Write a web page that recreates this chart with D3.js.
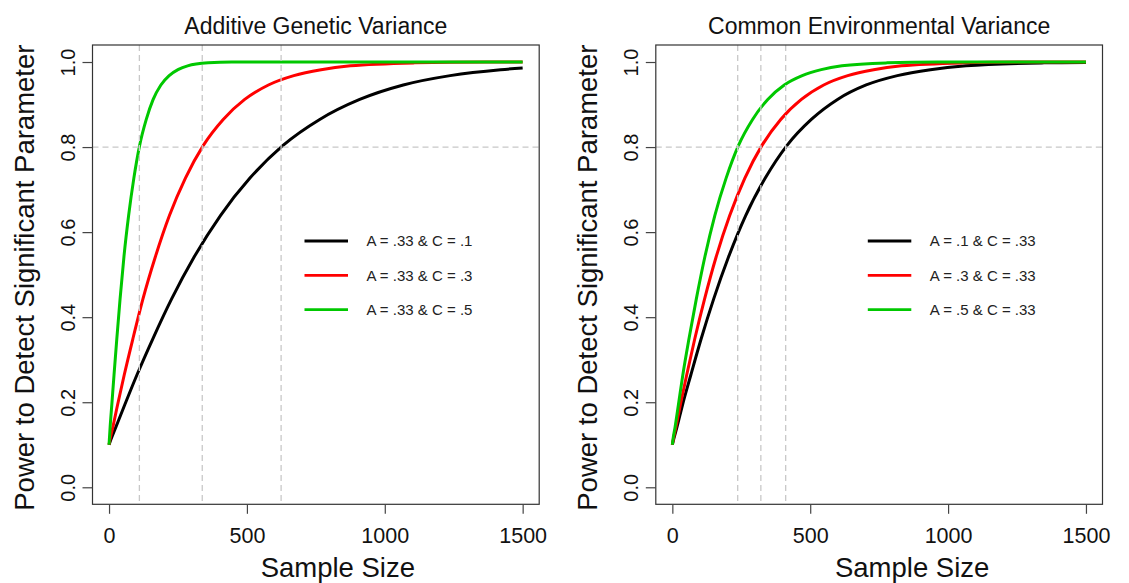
<!DOCTYPE html>
<meta charset="utf-8">
<style>
body { margin: 0; background: #fff; }
svg { font-family: "Liberation Sans", Arial, Helvetica, sans-serif; }
.box { fill: none; stroke: #333; stroke-width: 1.2px; }
.axis path { stroke: none; }
.axis line { stroke: #444; stroke-width: 1.2px; }
.axis text { fill: #111; }
.x.axis text { font-size: 21.5px; }
.y.axis text { font-size: 20px; }
.curve { fill: none; stroke-width: 3px; }
.cutoff { stroke: #c8c8c8; stroke-width: 1.3px; stroke-dasharray: 6,4; }
.title { font-size: 23px; fill: #111; }
.lab { font-size: 27.5px; fill: #111; }
.legend text { font-size: 15px; fill: #222; }
</style>
<body>
<script src="https://cdn.jsdelivr.net/npm/d3@7/dist/d3.min.js"></script>
<script>
var xTicks = [0, 500, 1000, 1500];
var yTicks = [0, 0.2, 0.4, 0.6, 0.8, 1.0];
var colors = ["black", "red", "#00c800"];

// Additive genetic variance panel (A = .33, C varies)
var addLabels = ["A = .33 & C = .1", "A = .33 & C = .3", "A = .33 & C = .5"];
var addN1 = [0, 6, 25, 57, 101, 158, 227, 309, 404, 511, 631, 764, 909, 1067, 1237, 1420, 1500];
var addP1 = [0.100, 0.111, 0.142, 0.194, 0.264, 0.348, 0.443, 0.542, 0.639, 0.727, 0.804, 0.865, 0.912, 0.946, 0.968, 0.982, 0.986];
var addN3 = [0, 3, 14, 31, 55, 86, 123, 168, 219, 277, 342, 414, 492, 578, 670, 769, 875, 1108, 1367, 1500];
var addP3 = [0.100, 0.111, 0.142, 0.194, 0.264, 0.348, 0.443, 0.542, 0.639, 0.727, 0.804, 0.865, 0.912, 0.946, 0.968, 0.982, 0.991, 0.998, 1.000, 1.000];
var addN5 = [0, 1, 4, 10, 18, 28, 40, 54, 71, 90, 111, 135, 160, 188, 218, 250, 285, 360, 445, 540, 1500];
var addP5 = [0.100, 0.111, 0.142, 0.194, 0.264, 0.348, 0.443, 0.542, 0.639, 0.727, 0.804, 0.865, 0.912, 0.946, 0.968, 0.982, 0.991, 0.998, 1.000, 1.000, 1.000];
var addCut = [110, 338, 624];

// Common environmental variance panel (C = .33, A varies)
var ceLabels = ["A = .1 & C = .33", "A = .3 & C = .33", "A = .5 & C = .33"];
var ceN1 = [0, 4, 17, 37, 67, 104, 150, 204, 266, 337, 416, 504, 599, 703, 816, 936, 1065, 1348, 1500];
var ceP1 = [0.100, 0.111, 0.142, 0.194, 0.264, 0.348, 0.443, 0.542, 0.639, 0.727, 0.804, 0.865, 0.912, 0.946, 0.968, 0.982, 0.991, 0.998, 0.999];
var ceN3 = [0, 3, 13, 29, 52, 81, 117, 159, 208, 263, 325, 393, 468, 549, 636, 730, 831, 1052, 1299, 1500];
var ceP3 = [0.100, 0.111, 0.142, 0.194, 0.264, 0.348, 0.443, 0.542, 0.639, 0.727, 0.804, 0.865, 0.912, 0.946, 0.968, 0.982, 0.991, 0.998, 1.000, 1.000];
var ceN5 = [0, 2, 10, 22, 38, 60, 87, 118, 154, 195, 240, 291, 346, 406, 471, 540, 615, 778, 961, 1163, 1500];
var ceP5 = [0.100, 0.111, 0.142, 0.194, 0.264, 0.348, 0.443, 0.542, 0.639, 0.727, 0.804, 0.865, 0.912, 0.946, 0.968, 0.982, 0.991, 0.998, 1.000, 1.000, 1.000];
var ceCut = [237, 321, 411];

function zip(n, p) { return n.map(function(v, i) { return [v, p[i]]; }); }

var panels = [
  { title: "Additive Genetic Variance", labels: addLabels, cut: addCut,
    series: [zip(addN1, addP1), zip(addN3, addP3), zip(addN5, addP5)], xlabShift: 22 },
  { title: "Common Environmental Variance", labels: ceLabels, cut: ceCut,
    series: [zip(ceN1, ceP1), zip(ceN3, ceP3), zip(ceN5, ceP5)], xlabShift: 33 }
];

var W = 1129, H = 583;
var plot = {left: 92.5, top: 45, width: 446.7, height: 459.3};
var panelShift = 563.3;

var svg = d3.select("body").append("svg")
    .attr("width", W)
    .attr("height", H);

var x = d3.scaleLinear().domain([-60, 1560]).range([0, plot.width]);
var y = d3.scaleLinear().domain([-0.04, 1.04]).range([plot.height, 0]);

var line = d3.line()
    .x(function(d) { return x(d[0]); })
    .y(function(d) { return y(d[1]); })
    .curve(d3.curveMonotoneX);

panels.forEach(function(p, i) {
  var g = svg.append("g")
      .attr("transform", "translate(" + (plot.left + i * panelShift) + "," + plot.top + ")");

  g.selectAll(".curve")
      .data(p.series)
    .enter().append("path")
      .attr("class", "curve")
      .attr("stroke", function(d, k) { return colors[k]; })
      .attr("d", line);

  // cut-off guides drawn over the curves
  g.append("line")
      .attr("class", "cutoff")
      .attr("x1", 0).attr("x2", plot.width)
      .attr("y1", y(0.8)).attr("y2", y(0.8));
  g.selectAll(".vcut")
      .data(p.cut)
    .enter().append("line")
      .attr("class", "cutoff")
      .attr("x1", x).attr("x2", x)
      .attr("y1", 0).attr("y2", plot.height);

  g.append("rect")
      .attr("class", "box")
      .attr("width", plot.width)
      .attr("height", plot.height);

  g.append("g")
      .attr("class", "x axis")
      .attr("transform", "translate(0," + plot.height + ")")
      .call(d3.axisBottom(x).tickValues(xTicks).tickSize(9.5).tickPadding(13.5).tickFormat(d3.format("d")));

  var ya = g.append("g")
      .attr("class", "y axis")
      .call(d3.axisLeft(y).tickValues(yTicks).tickSize(10).tickFormat(d3.format(".1f")));
  ya.selectAll("text")
      .attr("transform", "rotate(-90)")
      .attr("x", 0)
      .attr("y", -17.5)
      .attr("dy", 0)
      .attr("text-anchor", "middle");

  g.append("text")
      .attr("class", "title")
      .attr("x", plot.width / 2)
      .attr("y", -11)
      .attr("text-anchor", "middle")
      .text(p.title);

  g.append("text")
      .attr("class", "lab")
      .attr("x", plot.width / 2 + p.xlabShift)
      .attr("y", plot.height + 73)
      .attr("text-anchor", "middle")
      .text("Sample Size");

  g.append("text")
      .attr("class", "lab")
      .attr("transform", "translate(-58.5," + (plot.height / 2 + 3) + ") rotate(-90)")
      .attr("text-anchor", "middle")
      .text("Power to Detect Significant Parameter");

  var leg = g.append("g")
      .attr("class", "legend")
      .attr("transform", "translate(212,196)");
  var row = leg.selectAll("g")
      .data(p.labels)
    .enter().append("g")
      .attr("transform", function(d, k) { return "translate(0," + (k * 34.3) + ")"; });
  row.append("line")
      .attr("x2", 43.5)
      .attr("stroke", function(d, k) { return colors[k]; })
      .attr("stroke-width", 2.8);
  row.append("text")
      .attr("x", 62)
      .attr("dy", "0.35em")
      .text(function(d) { return d; });
});
</script>
